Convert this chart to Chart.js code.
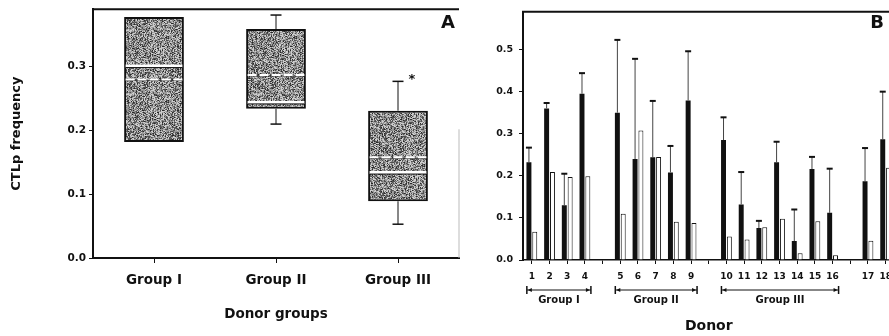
<!DOCTYPE html>
<html>
<head>
<meta charset="utf-8">
<script src="https://cdn.jsdelivr.net/npm/chart.js@4.4.1/dist/chart.umd.min.js"></script>
<style>
  html, body { margin: 0; padding: 0; background: #fff; overflow: hidden; width: 889px; height: 336px; }
  #boxChart { position: absolute; left: 0; top: 0; }
  #donorChart { position: absolute; left: 470px; top: 0; }
</style>
</head>
<body>
<canvas id="boxChart" width="462" height="336"></canvas>
<canvas id="donorChart" width="430" height="336"></canvas>
<script>
// Panel A: CTLp frequency per donor group (box plot)
const groups = ['Group I', 'Group II', 'Group III'];
const boxLow = [0.182, 0.234, 0.089];
const boxHigh = [0.378, 0.359, 0.231];
const medians = [0.301, 0.244, 0.134];
const means = [0.280, 0.287, 0.158];
const whiskerLow = [0.182, 0.210, 0.053];
const whiskerHigh = [0.378, 0.381, 0.277];
const starValue = [null, null, 0.285];
const yTicksA = [0, 0.1, 0.2, 0.3];

// Panel B: CTLp frequency per donor
const donors = [1, 2, 3, 4, 5, 6, 7, 8, 9, 10, 11, 12, 13, 14, 15, 16, 17, 18];
const gapAfter = [4, 9, 16];
const freqBlack = [0.232, 0.360, 0.130, 0.395, 0.350, 0.240, 0.244, 0.208, 0.379, 0.285, 0.132, 0.076, 0.232, 0.045, 0.216, 0.112, 0.187, 0.287];
const blackUpper = [0.267, 0.373, 0.205, 0.444, 0.523, 0.478, 0.378, 0.271, 0.496, 0.339, 0.209, 0.093, 0.281, 0.120, 0.245, 0.217, 0.266, 0.400];
const freqWhite = [0.067, 0.209, 0.197, 0.199, 0.110, 0.308, 0.245, 0.091, 0.088, 0.056, 0.049, 0.078, 0.098, 0.016, 0.092, 0.011, 0.046, 0.219];
const donorGroups = [[1, 4, 'Group I'], [5, 9, 'Group II'], [10, 16, 'Group III']];
const yTicksB = [0, 0.1, 0.2, 0.3, 0.4, 0.5];

const FONT = 'DejaVu Sans';
const INK = '#111';

// grainy grey fill for the boxes
function speckle() {
  const size = 64;
  const c = document.createElement('canvas');
  c.width = size; c.height = size;
  const g = c.getContext('2d');
  const img = g.createImageData(size, size);
  for (let y = 0; y < size; y++) {
    for (let x = 0; x < size; x++) {
      const h = Math.abs(Math.sin(x * 12.9898 + y * 78.233) * 43758.5453) % 1;
      const streak = Math.abs(Math.sin((x * 0.9 + y * 2.3) * 0.7)) > 0.93 ? -40 : 0;
      const v = (h < 0.3 ? 80 : h < 0.65 ? 150 : 205) + streak;
      const i = (y * size + x) * 4;
      img.data[i] = img.data[i + 1] = img.data[i + 2] = v;
      img.data[i + 3] = 255;
    }
  }
  g.putImageData(img, 0, 0);
  return g.createPattern(c, 'repeat');
}

function hline(ctx, x1, x2, y, width, color, dash) {
  ctx.save();
  ctx.strokeStyle = color;
  ctx.lineWidth = width;
  ctx.setLineDash(dash || []);
  ctx.beginPath();
  ctx.moveTo(x1, y);
  ctx.lineTo(x2, y);
  ctx.stroke();
  ctx.restore();
}

function vline(ctx, x, y1, y2, width, color) {
  ctx.save();
  ctx.strokeStyle = color;
  ctx.lineWidth = width;
  ctx.beginPath();
  ctx.moveTo(x, y1);
  ctx.lineTo(x, y2);
  ctx.stroke();
  ctx.restore();
}

Chart.defaults.font.family = FONT;
Chart.defaults.font.weight = 'bold';
Chart.defaults.color = INK;

// ---------- Panel A ----------
const boxExtras = {
  id: 'boxExtras',
  afterDatasetsDraw(chart) {
    const ctx = chart.ctx;
    const ys = chart.scales.y;
    const area = chart.chartArea;
    const bars = chart.getDatasetMeta(0).data;

    bars.forEach((bar, i) => {
      const x = bar.x;
      const half = bar.width / 2;
      const inL = x - half + 1.5, inR = x + half - 1.5;
      // whiskers
      if (whiskerHigh[i] > boxHigh[i]) {
        vline(ctx, x, ys.getPixelForValue(boxHigh[i]), ys.getPixelForValue(whiskerHigh[i]), 1, INK);
        hline(ctx, x - 5.5, x + 5.5, ys.getPixelForValue(whiskerHigh[i]), 1.5, INK);
      }
      if (whiskerLow[i] < boxLow[i]) {
        vline(ctx, x, ys.getPixelForValue(boxLow[i]), ys.getPixelForValue(whiskerLow[i]), 1, INK);
        hline(ctx, x - 5.5, x + 5.5, ys.getPixelForValue(whiskerLow[i]), 1.5, INK);
      }
      // median: solid, mean: dashed
      const my = ys.getPixelForValue(medians[i]);
      hline(ctx, inL, inR, my, 3, '#fff');
      hline(ctx, inL, inR, my + 1.5, 1, INK);
      const ay = ys.getPixelForValue(means[i]);
      hline(ctx, inL, inR, ay + 1, 1, '#333');
      hline(ctx, inL, inR, ay, 2, '#fff', [9, 3]);
      // significance marker
      if (starValue[i] != null) {
        ctx.save();
        ctx.fillStyle = INK;
        ctx.font = 'bold 13px ' + FONT;
        ctx.textAlign = 'center';
        ctx.textBaseline = 'middle';
        ctx.fillText('*', x + 14, ys.getPixelForValue(starValue[i]) + 3);
        ctx.restore();
      }
    });

    // frame
    hline(ctx, area.left - 1, area.right, area.top, 2, INK);
    vline(ctx, area.right, area.top + 120, area.bottom, 1, '#bbb');

    ctx.save();
    ctx.fillStyle = INK;
    ctx.font = 'bold 18px ' + FONT;
    ctx.textAlign = 'center';
    ctx.textBaseline = 'middle';
    ctx.fillText('A', 448, 23);
    ctx.restore();
  }
};

new Chart(document.getElementById('boxChart'), {
  type: 'bar',
  data: {
    labels: groups,
    datasets: [{
      data: groups.map((g, i) => [boxLow[i], boxHigh[i]]),
      backgroundColor: speckle(),
      borderColor: INK,
      borderWidth: 2,
      borderSkipped: false,
      barPercentage: 0.49,
      categoryPercentage: 1
    }]
  },
  options: {
    responsive: false,
    animation: false,
    layout: { padding: { top: 5, right: 3, left: 0, bottom: 0 } },
    plugins: { legend: { display: false }, tooltip: { enabled: false } },
    scales: {
      x: {
        afterFit: s => { s.height = 78; },
        grid: { drawOnChartArea: false, drawTicks: true, tickLength: 5, color: INK, offset: false },
        border: { color: INK, width: 2 },
        ticks: { font: { size: 13.5, weight: 'bold' }, padding: 9, color: INK },
        title: { display: true, text: 'Donor groups', font: { size: 13.5, weight: 'bold' }, padding: { top: 0, bottom: 13 }, color: INK }
      },
      y: {
        min: 0,
        max: 0.39,
        afterFit: s => { s.width = 93; },
        afterBuildTicks: s => { s.ticks = yTicksA.map(v => ({ value: v })); },
        grid: { drawOnChartArea: false, drawTicks: true, tickLength: 4, color: INK },
        border: { color: INK, width: 2 },
        ticks: { font: { size: 10.5, weight: 'bold' }, padding: 3, color: INK, callback: v => v.toFixed(1) },
        title: { display: true, text: 'CTLp frequency', font: { size: 13, weight: 'bold' }, padding: { top: 9, bottom: 0 }, color: INK }
      }
    }
  },
  plugins: [boxExtras]
});

// ---------- Panel B ----------
const slotLabels = [];
donors.forEach(d => {
  slotLabels.push(String(d));
  if (gapAfter.includes(d)) slotLabels.push('');
});
const bySlot = arr => slotLabels.map(l => (l ? arr[donors.indexOf(Number(l))] : null));
const slotIndex = d => slotLabels.indexOf(String(d));

const donorExtras = {
  id: 'donorExtras',
  afterDatasetsDraw(chart) {
    const ctx = chart.ctx;
    const xs = chart.scales.x;
    const ys = chart.scales.y;
    const area = chart.chartArea;
    const upper = bySlot(blackUpper);

    // upward error bars on the dark series
    chart.getDatasetMeta(0).data.forEach((bar, i) => {
      if (upper[i] == null) return;
      const top = ys.getPixelForValue(upper[i]);
      vline(ctx, bar.x, bar.y, top, 1, '#444');
      hline(ctx, bar.x - 3, bar.x + 3, top, 2, INK);
    });

    // frame
    hline(ctx, area.left - 1, area.right, area.top, 2, INK);

    // group brackets under the donor numbers
    const by = 290;
    ctx.save();
    ctx.fillStyle = INK;
    ctx.font = 'bold 10px ' + FONT;
    ctx.textAlign = 'center';
    ctx.textBaseline = 'middle';
    donorGroups.forEach(([a, b, name]) => {
      const x1 = xs.getPixelForValue(slotIndex(a)) - 5;
      const x2 = xs.getPixelForValue(slotIndex(b)) + 6;
      hline(ctx, x1, x2, by, 1, INK);
      vline(ctx, x1, by - 4, by + 4, 1.5, INK);
      vline(ctx, x2, by - 4, by + 4, 1.5, INK);
      ctx.beginPath();
      ctx.moveTo(x1 + 1, by); ctx.lineTo(x1 + 5, by - 2); ctx.lineTo(x1 + 5, by + 2); ctx.closePath();
      ctx.moveTo(x2 - 1, by); ctx.lineTo(x2 - 5, by - 2); ctx.lineTo(x2 - 5, by + 2); ctx.closePath();
      ctx.fill();
      ctx.fillText(name, (x1 + x2) / 2, 300);
    });
    ctx.font = 'bold 18px ' + FONT;
    ctx.fillText('B', 407, 23);
    ctx.restore();
  }
};

new Chart(document.getElementById('donorChart'), {
  type: 'bar',
  data: {
    labels: slotLabels,
    datasets: [{
      data: bySlot(freqBlack),
      backgroundColor: INK,
      borderWidth: 0,
      categoryPercentage: 0.66,
      barPercentage: 0.85
    }, {
      data: bySlot(freqWhite),
      backgroundColor: '#fff',
      borderColor: INK,
      borderWidth: 1,
      borderSkipped: 'bottom',
      categoryPercentage: 0.66,
      barPercentage: 0.85
    }]
  },
  options: {
    responsive: false,
    animation: false,
    layout: { padding: { top: 7, right: 5.5, left: 0, bottom: 0 } },
    plugins: { legend: { display: false }, tooltip: { enabled: false } },
    scales: {
      x: {
        afterFit: s => { s.height = 76; },
        grid: { drawOnChartArea: false, drawTicks: true, tickLength: 4, color: INK, offset: false },
        border: { color: INK, width: 1.5 },
        ticks: { font: { size: 9, weight: 'bold' }, padding: 7, color: INK, autoSkip: false, maxRotation: 0 },
        title: { display: true, text: 'Donor', font: { size: 14, weight: 'bold' }, padding: { top: 0, bottom: 1 }, color: INK }
      },
      y: {
        min: 0,
        max: 0.59,
        afterFit: s => { s.width = 53; },
        afterBuildTicks: s => { s.ticks = yTicksB.map(v => ({ value: v })); },
        grid: { drawOnChartArea: false, drawTicks: true, tickLength: 4, color: INK },
        border: { color: INK, width: 2 },
        ticks: { font: { size: 9.5, weight: 'bold' }, padding: 6, color: INK, callback: v => v.toFixed(1) }
      }
    }
  },
  plugins: [donorExtras]
});
</script>
</body>
</html>
